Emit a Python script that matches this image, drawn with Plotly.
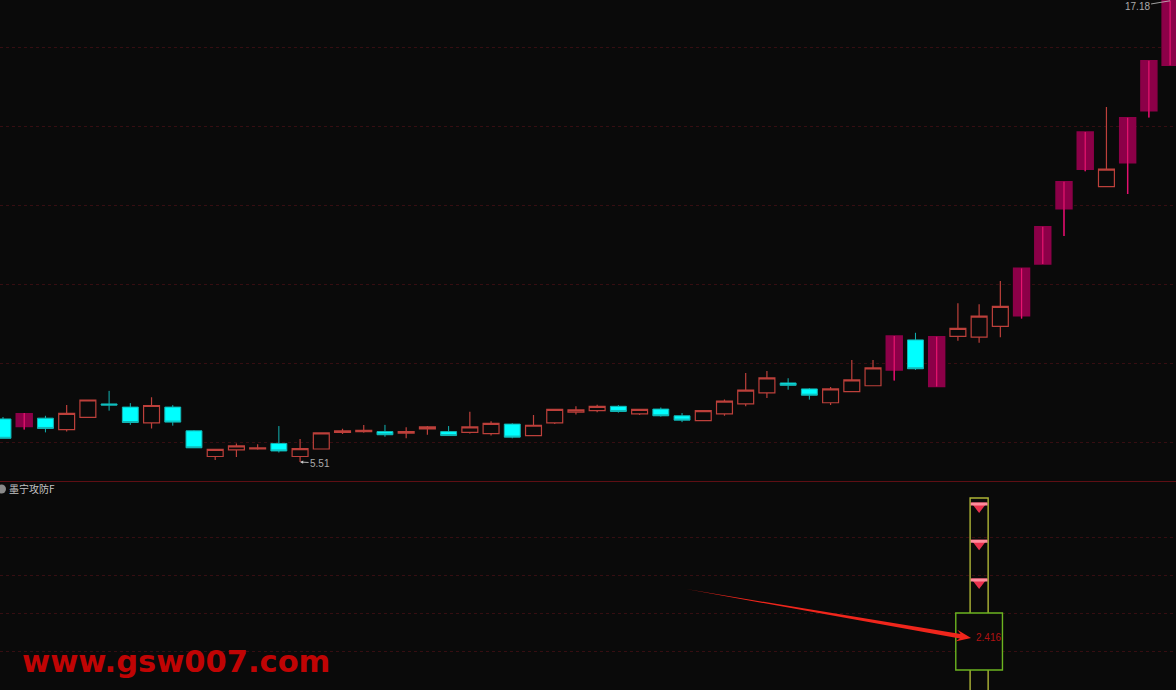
import plotly.graph_objects as go

# Daily prices
opens = [6.60,6.41,6.62,6.33,6.64,6.98,6.90,6.50,6.90,6.30,5.65,5.82,5.84,5.98,5.65,5.84,6.26,6.28,6.28,6.24,6.35,6.28,6.26,6.23,6.47,6.18,6.50,6.77,6.81,6.92,6.73,6.85,6.68,6.56,6.73,6.98,7.26,7.51,7.36,7.01,7.29,7.44,7.84,8.60,7.42,8.69,8.67,8.94,9.21,10.52,11.92,12.92,12.48,13.08,14.40,15.55]
closes = [6.11,6.73,6.36,6.74,7.08,6.95,6.51,6.94,6.52,5.87,5.83,5.92,5.87,5.79,5.85,6.25,6.30,6.31,6.20,6.28,6.40,6.18,6.40,6.49,6.14,6.44,6.84,6.83,6.92,6.79,6.84,6.68,6.57,6.81,7.05,7.33,7.64,7.45,7.20,7.36,7.59,7.89,8.70,7.87,8.68,8.89,9.20,9.45,10.41,11.46,12.60,13.86,12.92,14.22,15.66,17.18]
highs = [6.65,6.75,6.68,6.95,7.08,7.31,7.00,7.15,6.95,6.32,5.83,5.98,5.96,6.42,6.09,6.25,6.35,6.45,6.45,6.39,6.42,6.42,6.78,6.54,6.49,6.70,6.84,6.92,6.96,6.95,6.84,6.89,6.75,6.81,7.09,7.76,7.81,7.63,7.38,7.41,8.09,8.09,8.70,8.78,8.68,9.53,9.50,10.09,10.41,11.46,12.60,13.86,14.49,14.22,15.66,17.18]
lows = [6.11,6.33,6.26,6.28,6.64,6.81,6.45,6.36,6.43,5.87,5.56,5.64,5.82,5.75,5.51,5.84,6.22,6.25,6.15,6.11,6.20,6.17,6.23,6.18,6.11,6.17,6.47,6.71,6.77,6.76,6.70,6.66,6.52,6.56,6.68,6.92,7.13,7.34,7.09,6.95,7.28,7.43,7.57,7.84,7.42,8.58,8.53,8.67,9.14,10.52,11.23,12.87,12.48,12.29,14.23,15.55]
limit_up_days = [1,42,44,48,49,50,51,53,54,55]
price_ticks = [6,8,10,12,14,16]
price_low_label = "5.51"
price_high_label = "17.18"

# Lower indicator pane
indicator_name = "墨宁攻防F"
signal_day = 46
signal_value = 2.416
column_top = 6.03
box_top = 3.0
box_bottom = 1.5
gem_values = [5.82, 4.84, 3.82]
indicator_ticks = [1,2,3,4,5]

BG = "#0a0a0a"
days = list(range(len(opens)))
up = [d for d in days if closes[d] >= opens[d] and d not in limit_up_days]
down = [d for d in days if closes[d] < opens[d]]

def pick(vals, idx):
    return [vals[i] for i in idx]

def candle(idx, fill, line, lw, name):
    return go.Candlestick(
        x=idx, open=pick(opens, idx), high=pick(highs, idx), low=pick(lows, idx), close=pick(closes, idx),
        increasing=dict(fillcolor=fill, line=dict(color=line, width=lw)),
        decreasing=dict(fillcolor=fill, line=dict(color=line, width=lw)),
        whiskerwidth=0, name=name, showlegend=False, xaxis="x", yaxis="y")

fig = go.Figure()
fig.add_trace(candle(up, BG, "#bd403b", 1.2, "up"))
fig.add_trace(candle(down, "#00ffff", "#12b4b4", 1, "down"))
fig.add_trace(candle(limit_up_days, "#8c0048", "#8c0048", 1.5, "limit up"))

wx, wy = [], []
for d in limit_up_days:
    wx += [d, d, None]
    wy += [lows[d], highs[d], None]
fig.add_trace(go.Scatter(x=wx, y=wy, mode="lines", line=dict(color="#e81470", width=1.2),
                         hoverinfo="skip", showlegend=False, xaxis="x", yaxis="y"))

# Indicator: yellow column, green box, gems
fig.add_trace(go.Bar(x=[signal_day], y=[column_top], width=[0.85], marker=dict(color="rgba(0,0,0,0)", line=dict(color="#aeb536", width=1.4)),
                     showlegend=False, xaxis="x", yaxis="y2"))
fig.add_trace(go.Bar(x=[signal_day], y=[box_top-box_bottom], base=[box_bottom], width=[2.2], marker=dict(color=BG, line=dict(color="#6cb420", width=1.4)),
                     showlegend=False, xaxis="x", yaxis="y2"))
gx = [signal_day]*len(gem_values)
fig.add_trace(go.Scatter(x=gx, y=gem_values, mode="markers", marker=dict(symbol="triangle-down", size=14, color="#e8324e", line=dict(width=0)),
                         showlegend=False, xaxis="x", yaxis="y2"))
fig.add_trace(go.Scatter(x=gx, y=[v+0.05 for v in gem_values], mode="markers", marker=dict(symbol="line-ew", size=12, line=dict(color="#ff8c9c", width=3)),
                         showlegend=False, xaxis="x", yaxis="y2"))

STEP = 21.22
shapes = [dict(type="line", xref="paper", yref="paper", x0=0, x1=1, y0=1-481.5/690, y1=1-481.5/690,
               line=dict(color="#5e0f14", width=1)),
          dict(type="circle", xref="paper", yref="paper", x0=-3/1176, x1=6/1176, y0=1-493.5/690, y1=1-484.5/690,
               fillcolor="#8a8a8a", line=dict(width=0))]

# Tapered red pointer into the box (pixel offsets turned into axis units)
sx, sy = 32.19, 3.63
tx, ty = 45.62, 2.34
U = 38.0
def off(x, y, along, across):
    dxp, dyp = (tx-sx)*STEP, -(ty-sy)*U
    n = (dxp**2+dyp**2)**0.5
    ux, uy = dxp/n, dyp/n
    px = x*STEP + along*ux - across*uy
    py = -y*U + along*uy + across*ux
    return px/STEP, -py/U
pts = [off(sx,sy,0,0), off(tx,ty,-11,2.2), off(tx,ty,-15,6), off(tx,ty,0,0), off(tx,ty,-15,-6), off(tx,ty,-11,-2.2)]
path = "M " + " L ".join(f"{a:.3f},{b:.3f}" for a,b in pts) + " Z"
shapes.append(dict(type="path", xref="x", yref="y2", path=path, fillcolor="#f0261c", line=dict(width=0)))

label = dict(family="Liberation Sans", size=10, color="#aaaaaa")
annotations = [
    dict(x=14, y=lows[14], xref="x", yref="y", text=price_low_label, showarrow=True, ax=20, ay=1, arrowhead=2, arrowsize=0.7,
         arrowwidth=0.9, arrowcolor="#c8c8c8", font=label),
    dict(x=55, y=highs[55], xref="x", yref="y", text=price_high_label, showarrow=True, ax=-33, ay=5.5, arrowhead=0,
         arrowwidth=0.8, arrowcolor="#c8c8c8", font=label),
    dict(x=signal_day+0.45, y=signal_value, xref="x", yref="y2", text=f"{signal_value:.3f}", showarrow=False, yshift=-2.5,
         font=dict(family="Liberation Sans", size=10, color="#b01212")),
    dict(xref="paper", yref="paper", x=7/1176, y=1-488.5/690, text=indicator_name, showarrow=False, xanchor="left", yanchor="middle",
         font=dict(family="Noto Sans CJK SC", size=10, color="#c4c4c4")),
    dict(xref="paper", yref="paper", x=20/1176, y=1-661/690, text="www.gsw007.com", showarrow=False, xanchor="left", yanchor="middle",
         font=dict(family="DejaVu Sans", size=30.5, color="#c00404", weight="bold")),
]

grid = dict(showgrid=True, gridcolor="#360e12", griddash="dot", gridwidth=1, zeroline=False, showline=False,
            showticklabels=False, ticks="")
fig.update_layout(
    width=1176, height=690, margin=dict(l=0, r=0, t=0, b=0), paper_bgcolor=BG, plot_bgcolor=BG,
    showlegend=False, boxgap=0.25, boxgroupgap=0, barmode="overlay", shapes=shapes, annotations=annotations,
    xaxis=dict(range=[-3/STEP, (1176-3)/STEP], domain=[0,1], visible=False, anchor="y2", rangeslider=dict(visible=False)),
    yaxis=dict(domain=[1-481/690, 1], range=[5.03, 17.2], tickvals=price_ticks, **grid),
    yaxis2=dict(domain=[0, 208/690], range=[0.974, 6.45], tickvals=indicator_ticks, **grid),
)
fig.write_html("out.html", config=dict(displayModeBar=False),
               post_script=f"document.body.style.margin='0';document.body.style.background='{BG}';")
